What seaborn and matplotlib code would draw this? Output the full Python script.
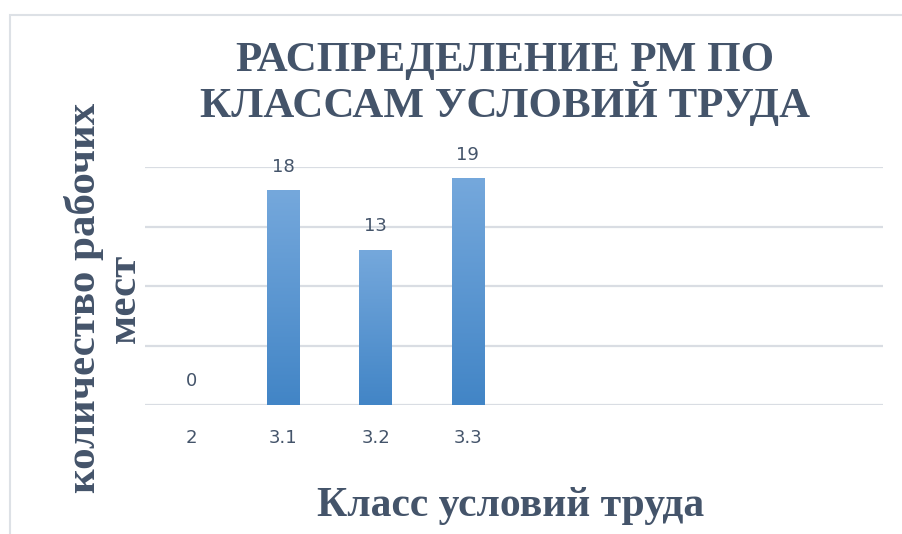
import numpy as np
import seaborn as sns
import matplotlib.pyplot as plt
from matplotlib.colors import LinearSegmentedColormap
from matplotlib.patches import Rectangle

# data
classes = ["2", "3.1", "3.2", "3.3"]
counts = [0, 18, 13, 19]
n_slots = 8
y_ticks = [0, 5, 10, 15, 20]

title = "РАСПРЕДЕЛЕНИЕ РМ ПО\nКЛАССАМ УСЛОВИЙ ТРУДА"
xlabel = "Класс условий труда"
ylabel = "количество рабочих\nмест"

text_col = "#44546A"
grid_col = "#D9DDE3"

sns.set_theme(style="white")
plt.rcParams["font.family"] = ["DejaVu Sans"]

fig = plt.figure(figsize=(9.02, 5.34), dpi=100)
ax = fig.add_axes([145 / 902, 1 - 405 / 534, 738 / 902, 238 / 534])

sns.barplot(x=classes, y=counts, ax=ax, width=0.35, color="#5B9BD5",
            edgecolor="none", saturation=1)

# vertical gradient fill like Excel
cmap = LinearSegmentedColormap.from_list("bar", ["#4285C6", "#75A8DC"])
grad = np.linspace(0, 1, 256).reshape(-1, 1)
for p in ax.patches:
    x0, w, h = p.get_x(), p.get_width(), p.get_height()
    if h <= 0:
        continue
    ax.imshow(grad, cmap=cmap, origin="lower", aspect="auto",
              extent=[x0, x0 + w, 0, h], zorder=3)
    p.set_alpha(0)

ax.set_xlim(-0.5, n_slots - 0.5)
ax.set_ylim(0, 20)
ax.set_yticks(y_ticks)
ax.set_yticklabels([])
ax.yaxis.grid(True, color=grid_col, linewidth=1.6)
ax.set_axisbelow(True)
for s in ["top", "right", "left", "bottom"]:
    ax.spines[s].set_visible(False)
ax.tick_params(axis="both", length=0)
ax.tick_params(axis="x", pad=17, labelsize=13, labelcolor=text_col)
ax.set_xlabel("")
ax.set_ylabel("")

for p, v in zip(ax.patches, counts):
    ax.annotate(str(v), (p.get_x() + p.get_width() / 2, v),
                xytext=(0, 11), textcoords="offset points",
                ha="center", va="bottom", fontsize=13, color=text_col)

fig.text(505 / 902, 1 - 84 / 534, title, ha="center", va="center",
         fontsize=31, fontweight="bold", color=text_col,
         family="Liberation Serif", linespacing=1.02)
fig.text(511 / 902, 1 - 506 / 534, xlabel, ha="center", va="center",
         fontsize=30, fontweight="bold", color=text_col,
         family="Liberation Serif")
fig.text(104 / 902, 1 - 298 / 534, ylabel, ha="center", va="center",
         rotation=90, fontsize=31, fontweight="bold", color=text_col,
         family="Liberation Serif", linespacing=1.05)

# chart area border
fig.add_artist(Rectangle((10 / 902, -0.1), 1.2, 1 - 15 / 534 + 0.1,
                         transform=fig.transFigure, fill=False,
                         edgecolor="#DDE1E6", linewidth=1.5))

fig.savefig("out.png", dpi=100)
